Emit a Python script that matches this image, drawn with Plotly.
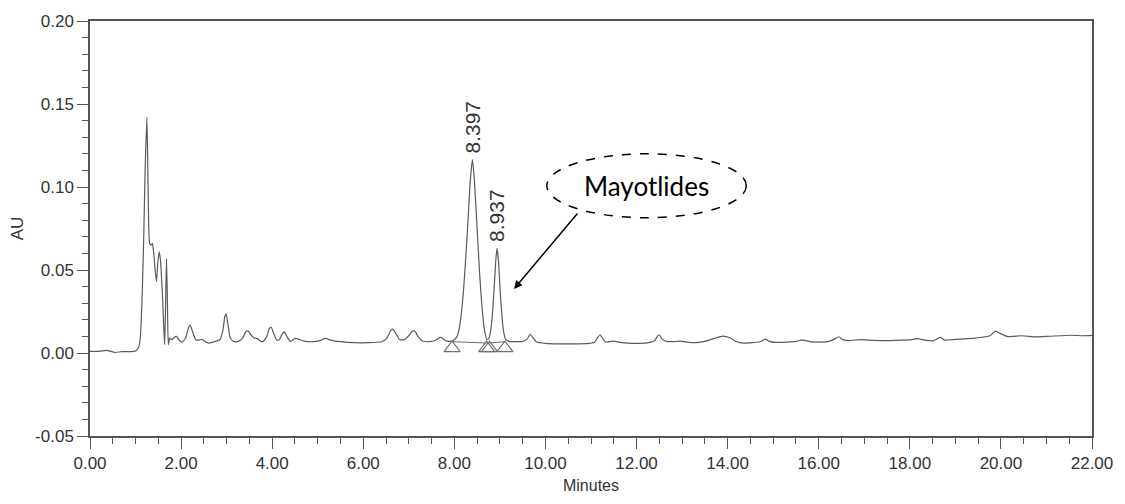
import plotly.graph_objects as go

# Detector trace: retention time (min) and absorbance (AU)
time_min = [
    0.00, 0.20, 0.36, 0.55, 0.70, 0.90, 1.00, 1.06, 1.10, 1.14, 1.18, 1.21, 1.25, 1.27, 1.29,
    1.31, 1.34, 1.37, 1.40, 1.43, 1.46, 1.49, 1.52, 1.55, 1.59, 1.62, 1.64, 1.66, 1.68, 1.70,
    1.72, 1.75, 1.80, 1.85, 1.90, 1.95, 2.02, 2.10, 2.16, 2.20, 2.25, 2.32, 2.40, 2.46, 2.55,
    2.62, 2.75, 2.85, 2.92, 2.96, 2.99, 3.03, 3.08, 3.15, 3.25, 3.35, 3.42, 3.47, 3.53, 3.60,
    3.67, 3.74, 3.80, 3.88, 3.94, 3.98, 4.03, 4.10, 4.16, 4.22, 4.27, 4.32, 4.40, 4.50, 4.56,
    4.70, 4.90, 5.05, 5.17, 5.30, 5.50, 5.80, 6.10, 6.40, 6.52, 6.60, 6.65, 6.71, 6.80, 6.90,
    7.00, 7.08, 7.13, 7.20, 7.30, 7.45, 7.58, 7.68, 7.73, 7.80, 7.90, 7.98, 8.06, 8.12, 8.18,
    8.24, 8.30, 8.35, 8.397, 8.44, 8.49, 8.55, 8.60, 8.66, 8.72, 8.76, 8.80, 8.84, 8.88, 8.91,
    8.937, 8.97, 9.00, 9.04, 9.08, 9.13, 9.20, 9.35, 9.50, 9.60, 9.66, 9.72, 9.80, 10.00, 10.30,
    10.60, 10.90, 11.08, 11.15, 11.20, 11.26, 11.32, 11.42, 11.50, 11.60, 11.80, 12.05, 12.30, 12.40, 12.46,
    12.50, 12.56, 12.65, 12.80, 12.95, 13.10, 13.30, 13.50, 13.70, 13.90, 14.05, 14.20, 14.35, 14.55, 14.72,
    14.83, 14.92, 15.05, 15.30, 15.50, 15.62, 15.70, 15.80, 16.00, 16.20, 16.35, 16.44, 16.52, 16.65, 16.95,
    17.20, 17.50, 17.80, 18.05, 18.17, 18.30, 18.52, 18.60, 18.67, 18.76, 19.00, 19.37, 19.60, 19.76, 19.88,
    20.00, 20.15, 20.46, 20.77, 21.08, 21.55, 21.80, 22.00,
]
au = [
    0.0010, 0.0010, 0.0016, 0.0003, 0.0008, 0.0008, 0.0012, 0.0030, 0.0080, 0.0300, 0.0700, 0.1100, 0.1420, 0.1100, 0.0750,
    0.0660, 0.0650, 0.0660, 0.0600, 0.0500, 0.0430, 0.0550, 0.0610, 0.0550, 0.0350, 0.0150, 0.0050, 0.0300, 0.0570, 0.0300,
    0.0050, 0.0090, 0.0080, 0.0095, 0.0100, 0.0080, 0.0065, 0.0090, 0.0150, 0.0168, 0.0130, 0.0080, 0.0078, 0.0082, 0.0065,
    0.0060, 0.0070, 0.0080, 0.0140, 0.0220, 0.0236, 0.0170, 0.0090, 0.0070, 0.0070, 0.0090, 0.0128, 0.0133, 0.0110, 0.0090,
    0.0088, 0.0072, 0.0070, 0.0100, 0.0148, 0.0155, 0.0120, 0.0078, 0.0080, 0.0115, 0.0127, 0.0100, 0.0070, 0.0088, 0.0085,
    0.0072, 0.0068, 0.0075, 0.0088, 0.0076, 0.0068, 0.0062, 0.0062, 0.0068, 0.0090, 0.0135, 0.0144, 0.0120, 0.0080, 0.0080,
    0.0105, 0.0132, 0.0133, 0.0100, 0.0072, 0.0068, 0.0075, 0.0094, 0.0092, 0.0075, 0.0070, 0.0075, 0.0100, 0.0170, 0.0310,
    0.0530, 0.0800, 0.1040, 0.1165, 0.1040, 0.0800, 0.0500, 0.0300, 0.0140, 0.0080, 0.0090, 0.0140, 0.0250, 0.0420, 0.0560,
    0.0630, 0.0550, 0.0400, 0.0240, 0.0130, 0.0080, 0.0070, 0.0068, 0.0070, 0.0085, 0.0113, 0.0095, 0.0068, 0.0058, 0.0055,
    0.0055, 0.0056, 0.0065, 0.0095, 0.0110, 0.0085, 0.0067, 0.0068, 0.0072, 0.0066, 0.0060, 0.0058, 0.0064, 0.0075, 0.0102,
    0.0110, 0.0085, 0.0070, 0.0068, 0.0071, 0.0066, 0.0063, 0.0070, 0.0088, 0.0102, 0.0092, 0.0068, 0.0060, 0.0063, 0.0068,
    0.0084, 0.0070, 0.0064, 0.0066, 0.0070, 0.0078, 0.0076, 0.0068, 0.0066, 0.0068, 0.0085, 0.0098, 0.0082, 0.0075, 0.0081,
    0.0076, 0.0074, 0.0077, 0.0081, 0.0086, 0.0079, 0.0074, 0.0085, 0.0094, 0.0078, 0.0082, 0.0088, 0.0095, 0.0104, 0.0132,
    0.0115, 0.0099, 0.0104, 0.0097, 0.0101, 0.0107, 0.0104, 0.0106,
]

# Integrated peaks (retention times labelled on the trace)
peak_rt = [8.397, 8.937]

# Integration events (peak start / end marks) and the drawn baselines
event_rt = [7.95, 8.71, 8.77, 9.11]
event_au = [0.0029, 0.0029, 0.0029, 0.0029]
baseline_rt = [7.95, 8.74, 9.11]
baseline_au = [0.0068, 0.0060, 0.0068]

# Axis ticks
x_ticks = [0, 2, 4, 6, 8, 10, 12, 14, 16, 18, 20, 22]
y_ticks = [-0.05, 0.00, 0.05, 0.10, 0.15, 0.20]

AXIS_COLOR = "#555555"
TEXT_COLOR = "#333333"

fig = go.Figure()

fig.add_trace(go.Scatter(
    x=time_min, y=au, mode="lines",
    line=dict(color="#5a5a5a", width=1.2, shape="spline", smoothing=0.5),
    hoverinfo="skip",
))

fig.add_trace(go.Scatter(
    x=baseline_rt, y=baseline_au, mode="lines",
    line=dict(color="#6a6a6a", width=1),
    hoverinfo="skip",
))

fig.add_trace(go.Scatter(
    x=event_rt, y=event_au, mode="markers",
    marker=dict(symbol="triangle-up-open", size=14, color="#707070", line=dict(width=1.2, color="#707070")),
    hoverinfo="skip",
))

# Retention-time labels above each integrated peak
for rt in peak_rt:
    apex = au[time_min.index(rt)]
    fig.add_annotation(
        x=rt, y=apex, text=f"{rt:.3f}", textangle=-90, showarrow=False,
        xanchor="center", yanchor="bottom", yshift=4,
        font=dict(family="Liberation Sans, Arial", size=21, color=TEXT_COLOR),
    )

# Callout bubble with arrow
fig.add_shape(
    type="circle", xref="x", yref="y",
    x0=10.03, x1=14.41, y0=0.0815, y1=0.1200,
    line=dict(color="black", width=1.5, dash="dash"),
)
fig.add_annotation(
    x=12.22, y=0.1008, text="Mayotlides", showarrow=False,
    font=dict(family="Lato, Open Sans, sans-serif", size=26, color="black"),
)
fig.add_annotation(
    x=9.31, y=0.0386, ax=10.73, ay=0.0850, axref="x", ayref="y",
    text="", showarrow=True, arrowhead=2, arrowsize=1.1, arrowwidth=1.5,
    arrowcolor="black", standoff=0,
)

fig.update_layout(
    width=1125, height=504,
    margin=dict(l=90, r=26, t=20, b=57),
    plot_bgcolor="white", paper_bgcolor="white",
    showlegend=False,
    font=dict(family="Liberation Sans, Arial, sans-serif", size=17, color=TEXT_COLOR),
)

fig.update_xaxes(
    range=[0, 22],
    tickmode="array", tickvals=x_ticks, ticktext=[f"{v:.2f}" for v in x_ticks],
    ticks="outside", ticklen=11, tickwidth=1.2, tickcolor=AXIS_COLOR,
    minor=dict(tickmode="linear", tick0=0, dtick=0.5, ticks="outside", ticklen=6,
               tickwidth=1.2, tickcolor=AXIS_COLOR, showgrid=False),
    showline=True, linecolor=AXIS_COLOR, linewidth=1.5, mirror=True,
    showgrid=False, zeroline=False,
    title=dict(text="Minutes", font=dict(size=16), standoff=8),
)
fig.update_yaxes(
    range=[-0.05, 0.20],
    tickmode="array", tickvals=y_ticks, ticktext=[f"{v:.2f}" for v in y_ticks],
    ticks="outside", ticklen=11, tickwidth=1.2, tickcolor=AXIS_COLOR,
    minor=dict(tickmode="linear", tick0=0, dtick=0.01, ticks="outside", ticklen=6,
               tickwidth=1.2, tickcolor=AXIS_COLOR, showgrid=False),
    showline=True, linecolor=AXIS_COLOR, linewidth=1.5, mirror=True,
    showgrid=False, zeroline=False,
    title=dict(text="AU", font=dict(size=17), standoff=7),
)

fig.write_html("out.html")
